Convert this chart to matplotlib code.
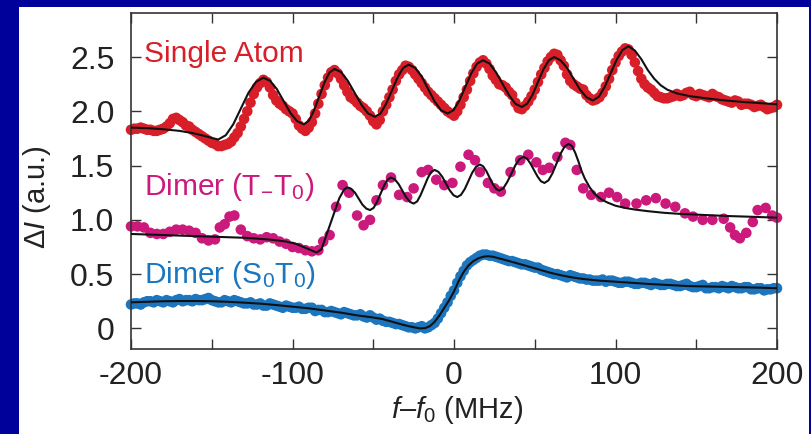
import matplotlib
matplotlib.use("Agg")
import matplotlib.pyplot as plt
import numpy as np

plt.rcParams['font.family'] = ['Liberation Sans', 'DejaVu Sans']
plt.rcParams['mathtext.fontset'] = 'custom'
plt.rcParams['mathtext.rm'] = 'Liberation Sans'
plt.rcParams['mathtext.it'] = 'Liberation Sans:italic'
plt.rcParams['mathtext.bf'] = 'Liberation Sans:bold'

# ---------------- data ----------------
grid_f = np.arange(-200, 201, 4)       # measurement frequencies (MHz)
grid_mid = np.arange(-198, 199, 4)     # interleaved measurement frequencies (MHz)

single_data = [1.83, 1.84, 1.84, 1.83, 1.82, 1.84, 1.89, 1.94, 1.90, 1.86,
               1.81, 1.77, 1.73, 1.70, 1.68, 1.70, 1.76, 1.86, 2.00, 2.16,
               2.26, 2.27, 2.15, 2.07, 2.02, 1.98, 1.87, 1.82, 1.90, 2.07,
               2.24, 2.36, 2.35, 2.24, 2.13, 2.08, 2.03, 1.96, 1.88, 2.00,
               2.13, 2.28, 2.38, 2.41, 2.34, 2.26, 2.18, 2.12, 2.06, 2.00,
               1.96, 2.06, 2.20, 2.35, 2.45, 2.44, 2.33, 2.25, 2.22, 2.15,
               2.03, 2.05, 2.14, 2.27, 2.40, 2.50, 2.52, 2.42, 2.28, 2.23,
               2.20, 2.12, 2.11, 2.17, 2.30, 2.45, 2.55, 2.57, 2.45, 2.30,
               2.22, 2.17, 2.13, 2.12, 2.14, 2.14, 2.17, 2.15, 2.16, 2.14,
               2.16, 2.13, 2.10, 2.08, 2.09, 2.07, 2.06, 2.05, 2.04, 2.03,
               2.06]
single_data_mid = [1.84, 1.85, 1.83, 1.82, 1.83, 1.86, 1.93, 1.92, 1.87, 1.83,
                   1.79, 1.75, 1.71, 1.68, 1.69, 1.72, 1.80, 1.93, 2.08, 2.22,
                   2.29, 2.22, 2.10, 2.05, 2.00, 1.93, 1.84, 1.85, 1.98, 2.16,
                   2.31, 2.38, 2.30, 2.18, 2.11, 2.05, 2.00, 1.91, 1.92, 2.06,
                   2.20, 2.34, 2.42, 2.38, 2.30, 2.22, 2.15, 2.09, 2.03, 1.98,
                   2.00, 2.13, 2.28, 2.41, 2.47, 2.39, 2.29, 2.24, 2.18, 2.08,
                   2.02, 2.09, 2.20, 2.34, 2.46, 2.53, 2.47, 2.34, 2.25, 2.21,
                   2.15, 2.10, 2.13, 2.23, 2.38, 2.51, 2.58, 2.52, 2.37, 2.25,
                   2.20, 2.14, 2.12, 2.13, 2.16, 2.15, 2.18, 2.14, 2.15, 2.13,
                   2.14, 2.11, 2.09, 2.10, 2.06, 2.07, 2.04, 2.06, 2.02, 2.04]

single_fit_f = [-200, -190, -180, -170, -162, -155, -150, -146,
                -141.3, -136.7, -132, -127.3, -122.7, -118,
                -113.8, -109.7, -105.5, -101.3, -97.2, -93,
                -89.8, -86.7, -83.5, -80.3, -77.2, -74,
                -69.8, -65.7, -61.5, -57.3, -53.2, -49,
                -45.5, -42, -38.5, -35, -31.5, -28,
                -24, -20, -16, -12, -8, -4,
                -0.3, 3.3, 7, 10.7, 14.3, 18,
                22, 26, 30, 34, 38, 42,
                45.3, 48.7, 52, 55.3, 58.7, 62,
                66, 70, 74, 78, 82, 86,
                89.7, 93.3, 97, 100.7, 104.3, 108,
                112, 116, 120, 124, 128, 132, 138, 146, 156, 168, 180, 190, 200]
single_fit_v = [1.85, 1.845, 1.835, 1.82, 1.80, 1.775, 1.755, 1.74,
                1.78, 1.88, 2.025, 2.17, 2.27, 2.31,
                2.28, 2.205, 2.095, 1.985, 1.91, 1.88,
                1.915, 2.008, 2.135, 2.263, 2.356, 2.39,
                2.36, 2.28, 2.17, 2.06, 1.98, 1.95,
                1.98, 2.07, 2.19, 2.31, 2.40, 2.43,
                2.40, 2.32, 2.205, 2.09, 2.01, 1.98,
                2.01, 2.10, 2.225, 2.35, 2.44, 2.47,
                2.44, 2.36, 2.255, 2.15, 2.07, 2.04,
                2.07, 2.155, 2.27, 2.385, 2.47, 2.50,
                2.47, 2.40, 2.30, 2.20, 2.13, 2.10,
                2.135, 2.225, 2.35, 2.475, 2.565, 2.60,
                2.56, 2.48, 2.38, 2.30, 2.24, 2.20, 2.165, 2.14, 2.12, 2.10, 2.085, 2.075, 2.065]

dimer_t_f = [-200, -196, -192, -188, -184, -180, -176, -172, -168, -164,
             -160, -156, -152, -148, -145, -142, -139, -136, -132, -128,
             -124, -120, -116, -112, -108, -104, -100, -96, -92, -88,
             -84, -81, -77, -73, -69, -65, -60, -56, -52, -48,
             -44, -39, -34, -29, -25, -20, -16, -11, -6, -1,
             4, 9, 13, 16, 21, 25, 29, 35, 41, 46,
             51, 55, 59, 64, 69, 72, 76, 80, 85, 91,
             96, 101, 106, 113, 119, 125, 131, 137, 143, 148,
             154, 160, 167, 171, 174, 177, 181, 185, 188, 193,
             197, 200]
dimer_t_data = [0.94, 0.94, 0.93, 0.88, 0.87, 0.87, 0.89, 0.91, 0.91, 0.90,
                0.88, 0.83, 0.81, 0.82, 0.93, 0.96, 1.03, 1.04, 0.91, 0.85,
                0.83, 0.82, 0.84, 0.83, 0.80, 0.78, 0.75, 0.74, 0.72, 0.71,
                0.72, 0.80, 0.86, 1.12, 1.32, 1.25, 1.04, 0.95, 1.00, 1.18,
                1.32, 1.39, 1.23, 1.21, 1.29, 1.44, 1.46, 1.37, 1.32, 1.34,
                1.49, 1.60, 1.55, 1.44, 1.34, 1.29, 1.26, 1.44, 1.55, 1.60,
                1.53, 1.46, 1.48, 1.58, 1.71, 1.69, 1.46, 1.29, 1.23, 1.21,
                1.25, 1.21, 1.15, 1.15, 1.18, 1.20, 1.15, 1.12, 1.06, 1.03,
                1.00, 1.00, 1.01, 0.93, 0.86, 0.83, 0.88, 0.98, 1.09, 1.11,
                1.04, 1.02]

dimer_t_fit_f = [-200, -190, -180, -170, -160, -150, -140, -130, -120, -112,
                 -104, -98, -94, -90, -87, -85, -82, -79, -75, -71, -68, -66,
                 -63.7, -61.3, -59, -56.7, -54.3, -52,
                 -49.8, -47.7, -45.5, -43.3, -41.2, -39,
                 -36.7, -34.3, -32, -29.7, -27.3, -25,
                 -22.8, -20.7, -18.5, -16.3, -14.2, -12,
                 -9.7, -7.3, -5, -2.7, -0.3, 2,
                 4.3, 6.7, 9, 11.3, 13.7, 16,
                 18, 20, 22, 24, 26, 28,
                 30.5, 33, 35.5, 38, 40.5, 43,
                 45.2, 47.3, 49.5, 51.7, 53.8, 56,
                 58.5, 61, 63.5, 66, 68.5, 71,
                 73, 75, 77, 79, 81, 84, 87, 91, 95, 100, 106, 112, 120, 130,
                 140, 155, 170, 185, 200]
dimer_t_fit_v = [0.87, 0.865, 0.86, 0.855, 0.85, 0.845, 0.84, 0.835, 0.825, 0.815,
                 0.80, 0.78, 0.755, 0.73, 0.71, 0.70, 0.73, 0.86, 1.03, 1.20, 1.28, 1.30,
                 1.286, 1.25, 1.195, 1.14, 1.104, 1.09,
                 1.11, 1.165, 1.24, 1.315, 1.37, 1.39,
                 1.374, 1.33, 1.27, 1.21, 1.166, 1.15,
                 1.17, 1.228, 1.305, 1.383, 1.44, 1.46,
                 1.443, 1.398, 1.335, 1.273, 1.227, 1.21,
                 1.23, 1.285, 1.36, 1.435, 1.49, 1.51,
                 1.494, 1.45, 1.39, 1.33, 1.286, 1.27,
                 1.29, 1.35, 1.425, 1.503, 1.56, 1.58,
                 1.564, 1.52, 1.46, 1.40, 1.356, 1.34,
                 1.364, 1.43, 1.52, 1.61, 1.676, 1.70,
                 1.68, 1.62, 1.54, 1.45, 1.38, 1.30, 1.24, 1.19, 1.16, 1.13, 1.11, 1.095, 1.08, 1.065,
                 1.055, 1.045, 1.035, 1.028, 1.02]

dimer_s_data = [0.22, 0.23, 0.24, 0.25, 0.26, 0.24, 0.25, 0.26, 0.25, 0.26,
                0.27, 0.26, 0.28, 0.25, 0.24, 0.25, 0.26, 0.24, 0.23, 0.22,
                0.23, 0.21, 0.22, 0.20, 0.21, 0.19, 0.20, 0.18, 0.19, 0.17,
                0.15, 0.16, 0.14, 0.15, 0.13, 0.12, 0.11, 0.12, 0.08, 0.07,
                0.06, 0.04, 0.03, 0.01, 0.00, 0.02, 0.01, 0.05, 0.14, 0.24,
                0.35, 0.48, 0.58, 0.63, 0.67, 0.68, 0.67, 0.65, 0.63, 0.62,
                0.60, 0.59, 0.57, 0.56, 0.53, 0.51, 0.50, 0.48, 0.49, 0.47,
                0.46, 0.45, 0.44, 0.45, 0.44, 0.43, 0.42, 0.43, 0.41, 0.42,
                0.41, 0.42, 0.40, 0.41, 0.40, 0.39, 0.41, 0.38, 0.39, 0.37,
                0.38, 0.37, 0.38, 0.39, 0.37, 0.38, 0.36, 0.37, 0.35, 0.36,
                0.37]
dimer_s_data_mid = [0.23, 0.22, 0.25, 0.24, 0.25, 0.26, 0.24, 0.27, 0.26, 0.25,
                    0.26, 0.27, 0.26, 0.24, 0.26, 0.24, 0.25, 0.23, 0.24, 0.22,
                    0.21, 0.23, 0.21, 0.19, 0.20, 0.19, 0.18, 0.19, 0.16, 0.17,
                    0.15, 0.15, 0.13, 0.14, 0.12, 0.13, 0.10, 0.10, 0.09, 0.06,
                    0.05, 0.04, 0.02, 0.01, 0.01, 0.00, 0.03, 0.09, 0.19, 0.30,
                    0.42, 0.53, 0.61, 0.65, 0.68, 0.67, 0.66, 0.64, 0.62, 0.61,
                    0.59, 0.58, 0.56, 0.54, 0.52, 0.50, 0.49, 0.47, 0.48, 0.46,
                    0.45, 0.44, 0.44, 0.43, 0.44, 0.42, 0.43, 0.42, 0.41, 0.42,
                    0.40, 0.41, 0.40, 0.41, 0.39, 0.40, 0.39, 0.38, 0.40, 0.37,
                    0.38, 0.39, 0.37, 0.38, 0.37, 0.38, 0.36, 0.37, 0.36, 0.37]

dimer_s_fit_f = [-200, -190, -180, -170, -160, -150, -140, -130, -120, -110,
                 -100, -90, -80, -70, -60, -50, -44, -38, -32, -28,
                 -24, -21, -18, -15, -12, -9, -6, -3, 0, 3,
                 6, 9, 12, 15, 18, 21, 24, 28, 33, 39,
                 45, 52, 59, 66, 73, 80, 90, 100, 110, 120,
                 132, 145, 160, 175, 190, 200]
dimer_s_fit_v = [0.24, 0.245, 0.25, 0.252, 0.252, 0.25, 0.245, 0.237, 0.228, 0.215,
                 0.20, 0.185, 0.165, 0.145, 0.12, 0.10, 0.085, 0.06, 0.035, 0.02,
                 0.008, 0.0, 0.002, 0.02, 0.06, 0.12, 0.19, 0.26, 0.34, 0.44,
                 0.52, 0.58, 0.62, 0.645, 0.66, 0.665, 0.66, 0.645, 0.625, 0.60,
                 0.575, 0.545, 0.515, 0.49, 0.47, 0.455, 0.44, 0.43, 0.42, 0.41,
                 0.40, 0.39, 0.385, 0.38, 0.375, 0.37]

x_ticks = [-200, -150, -100, -50, 0, 50, 100, 150, 200]
x_tick_labels = ['-200', '', '-100', '', '0', '', '100', '', '200']
y_ticks = [0, 0.5, 1.0, 1.5, 2.0, 2.5]
y_tick_labels = ['0', '0.5', '1.0', '1.5', '2.0', '2.5']

RED = '#d81e28'
PINK = '#cc1a7c'
BLUE = '#1b76bf'
BG = '#00009a'

# ---------------- figure ----------------
fig = plt.figure(figsize=(8.11, 4.34), dpi=100)
fig.patch.set_facecolor(BG)

# white panel behind the plot
panel = fig.add_axes([19 / 811, 0, (809 - 19) / 811, 1 - 7 / 434], zorder=-5)
panel.set_facecolor('white')
panel.set_xticks([])
panel.set_yticks([])
for s in panel.spines.values():
    s.set_visible(False)

ax = fig.add_axes([131 / 811, 1 - 349 / 434, (777 - 131) / 811, (349 - 13) / 434], zorder=1)
ax.set_facecolor('white')

ms = 58
ax.scatter(grid_f, single_data, s=ms, color=RED, edgecolors='none', clip_on=False, zorder=2)
ax.scatter(grid_mid, single_data_mid, s=ms, color=RED, edgecolors='none', clip_on=False, zorder=2)
ax.scatter(dimer_t_f, dimer_t_data, s=ms, color=PINK, edgecolors='none', clip_on=False, zorder=2)
ax.scatter(grid_f, dimer_s_data, s=ms, color=BLUE, edgecolors='none', clip_on=False, zorder=2)
ax.scatter(grid_mid, dimer_s_data_mid, s=ms, color=BLUE, edgecolors='none', clip_on=False, zorder=2)

lw = 1.5
ax.plot(single_fit_f, single_fit_v, color='#111111', lw=lw, zorder=3, solid_joinstyle='round')
ax.plot(dimer_t_fit_f, dimer_t_fit_v, color='#111111', lw=lw, zorder=3, solid_joinstyle='round')
ax.plot(dimer_s_fit_f, dimer_s_fit_v, color='#111111', lw=lw, zorder=3, solid_joinstyle='round')

ax.set_xlim(-200, 200)
ax.set_ylim(-0.19, 2.906)

ax.set_xticks(x_ticks)
ax.set_xticklabels(x_tick_labels)
ax.set_yticks(y_ticks)
ax.set_yticklabels(y_tick_labels)
ax.tick_params(direction='in', length=7, width=1.0, color='#333333',
               labelsize=23, labelcolor='#222222', top=True, right=True)
ax.tick_params(axis='x', pad=9)
ax.tick_params(axis='y', pad=12)
for s in ax.spines.values():
    s.set_color('#333333')
    s.set_linewidth(1.2)

ax.text(-192, 2.455, 'Single Atom', color=RED, fontsize=21.5, va='baseline', ha='left')
ax.text(-192, 1.23, 'Dimer (T$_{-}$T$_0$)', color=PINK, fontsize=21.5, va='baseline', ha='left')
ax.text(-192, 0.418, 'Dimer (S$_0$T$_0$)', color=BLUE, fontsize=21.5, va='baseline', ha='left')

fig.text(37 / 811, 1 - 197 / 434, '$\\Delta$$I$ (a.u.)', rotation=90, ha='center', va='center',
         fontsize=21, color='#222222')
fig.text(457 / 811, 1 - 410 / 434, '$f$\u2013$f_0$ (MHz)', ha='center', va='center',
         fontsize=21, color='#222222')

fig.savefig('out.png', dpi=100, facecolor=fig.get_facecolor())
